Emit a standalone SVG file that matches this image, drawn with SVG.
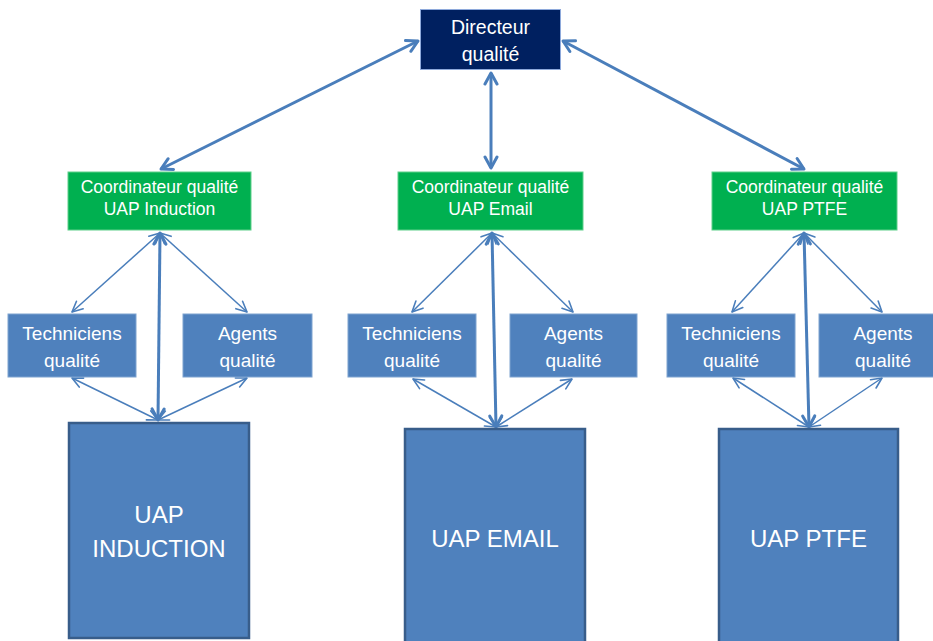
<svg xmlns="http://www.w3.org/2000/svg" width="933" height="641" viewBox="0 0 933 641">
  <style>
    text { font-family: "Liberation Sans", Arial, sans-serif; fill: #ffffff; text-anchor: middle; }
    .dir { fill: #002060; stroke: #8EA9DB; stroke-width: 1; }
    .coord { fill: #00B050; stroke: #5FCF8A; stroke-width: 1; }
    .staff { fill: #4F81BD; stroke: #7FA3D0; stroke-width: 1; }
    .uap { fill: #4F81BD; stroke: #385D8A; stroke-width: 2.5; }
    .t-dir { font-size: 19.5px; }
    .t-coord { font-size: 17.5px; }
    .t-staff { font-size: 19px; }
    .t-uap { font-size: 24px; }
    .thick { stroke: #4A7EBB; stroke-width: 3; fill: none; marker-start: url(#headBig); marker-end: url(#headBig); }
    .thin { stroke: #4A7EBB; stroke-width: 1.5; fill: none; marker-start: url(#headSmall); marker-end: url(#headSmall); }
  </style>
  <defs>
    <marker id="headBig" markerUnits="userSpaceOnUse" markerWidth="16" markerHeight="16" viewBox="0 0 16 16" refX="14" refY="8" orient="auto-start-reverse">
      <path d="M3,2 L14,8 L3,14" fill="none" stroke="#4A7EBB" stroke-width="3" stroke-linecap="round" stroke-linejoin="round"/>
    </marker>
    <marker id="headSmall" markerUnits="userSpaceOnUse" markerWidth="14" markerHeight="14" viewBox="0 0 14 14" refX="12.5" refY="7" orient="auto-start-reverse">
      <path d="M2,2 L12.5,7 L2,12" fill="none" stroke="#4A7EBB" stroke-width="1.6" stroke-linecap="round" stroke-linejoin="round"/>
    </marker>
  </defs>

  <!-- connectors -->
  <g id="connectors">
    <!-- director to coordinators -->
    <line class="thick" x1="418" y1="41" x2="161" y2="169"/>
    <line class="thick" x1="491" y1="73" x2="491" y2="168"/>
    <line class="thick" x1="563" y1="41" x2="804" y2="169"/>
    <!-- Induction branch -->
    <line class="thin" x1="160" y1="233" x2="72" y2="312"/>
    <line class="thin" x1="160" y1="233" x2="247" y2="312"/>
    <line class="thick" x1="160" y1="233" x2="158" y2="420"/>
    <line class="thin" x1="72" y1="378" x2="158" y2="420"/>
    <line class="thin" x1="247" y1="378" x2="158" y2="420"/>
    <!-- Email branch -->
    <line class="thin" x1="492" y1="233" x2="412" y2="312"/>
    <line class="thin" x1="492" y1="233" x2="573" y2="312"/>
    <line class="thick" x1="492" y1="233" x2="496" y2="427"/>
    <line class="thin" x1="413" y1="379" x2="496" y2="427"/>
    <line class="thin" x1="572" y1="379" x2="496" y2="427"/>
    <!-- PTFE branch -->
    <line class="thin" x1="804" y1="233" x2="732" y2="312"/>
    <line class="thin" x1="804" y1="233" x2="882" y2="312"/>
    <line class="thick" x1="804" y1="233" x2="809" y2="427"/>
    <line class="thin" x1="733" y1="378" x2="809" y2="427"/>
    <line class="thin" x1="882" y1="378" x2="809" y2="427"/>
  </g>

  <g id="directeur">
    <rect class="dir" x="420.5" y="9.5" width="140" height="60"/>
    <text class="t-dir" x="490.5" y="34">Directeur</text>
    <text class="t-dir" x="490.5" y="61">qualité</text>
  </g>

  <g id="coord-induction">
    <rect class="coord" x="68" y="172" width="183" height="58"/>
    <text class="t-coord" x="159.5" y="193">Coordinateur qualité</text>
    <text class="t-coord" x="159.5" y="215">UAP Induction</text>
  </g>
  <g id="coord-email">
    <rect class="coord" x="398" y="172" width="185" height="58"/>
    <text class="t-coord" x="490.5" y="193">Coordinateur qualité</text>
    <text class="t-coord" x="490.5" y="215">UAP Email</text>
  </g>
  <g id="coord-ptfe">
    <rect class="coord" x="712" y="172" width="185" height="58"/>
    <text class="t-coord" x="804.5" y="193">Coordinateur qualité</text>
    <text class="t-coord" x="804.5" y="215">UAP PTFE</text>
  </g>

  <g id="tech-induction">
    <rect class="staff" x="8" y="314" width="128" height="63"/>
    <text class="t-staff" x="72" y="340">Techniciens</text>
    <text class="t-staff" x="72" y="367">qualité</text>
  </g>
  <g id="agents-induction">
    <rect class="staff" x="183" y="314" width="129" height="63"/>
    <text class="t-staff" x="247.5" y="340">Agents</text>
    <text class="t-staff" x="247.5" y="367">qualité</text>
  </g>
  <g id="tech-email">
    <rect class="staff" x="348" y="314" width="128" height="63"/>
    <text class="t-staff" x="412" y="340">Techniciens</text>
    <text class="t-staff" x="412" y="367">qualité</text>
  </g>
  <g id="agents-email">
    <rect class="staff" x="510" y="314" width="127" height="63"/>
    <text class="t-staff" x="573.5" y="340">Agents</text>
    <text class="t-staff" x="573.5" y="367">qualité</text>
  </g>
  <g id="tech-ptfe">
    <rect class="staff" x="667" y="314" width="128" height="63"/>
    <text class="t-staff" x="731" y="340">Techniciens</text>
    <text class="t-staff" x="731" y="367">qualité</text>
  </g>
  <g id="agents-ptfe">
    <rect class="staff" x="819" y="314" width="128" height="63"/>
    <text class="t-staff" x="883" y="340">Agents</text>
    <text class="t-staff" x="883" y="367">qualité</text>
  </g>

  <g id="uap-induction">
    <rect class="uap" x="69" y="423" width="180" height="215"/>
    <text class="t-uap" x="159" y="523">UAP</text>
    <text class="t-uap" x="159" y="557">INDUCTION</text>
  </g>
  <g id="uap-email">
    <rect class="uap" x="405" y="429" width="180" height="220"/>
    <text class="t-uap" x="495" y="547">UAP EMAIL</text>
  </g>
  <g id="uap-ptfe">
    <rect class="uap" x="719" y="429" width="179" height="220"/>
    <text class="t-uap" x="808.5" y="547">UAP PTFE</text>
  </g>
</svg>
